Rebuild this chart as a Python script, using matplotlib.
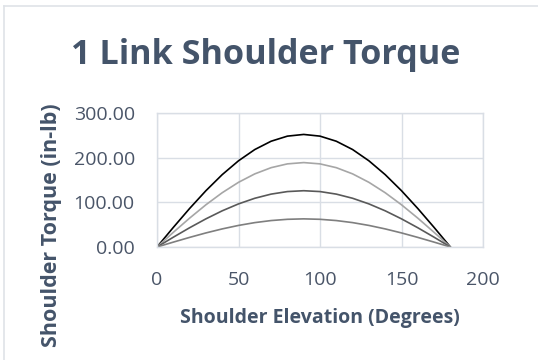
import matplotlib
matplotlib.use("Agg")
import matplotlib.pyplot as plt
from matplotlib.lines import Line2D

angles = [0, 10, 20, 30, 40, 50, 60, 70, 80, 90, 100, 110, 120, 130, 140, 150, 160, 170, 180]
torque_a = [0, 43.8, 86.2, 126.0, 162.0, 193.0, 218.2, 236.8, 248.2, 252.0, 248.2, 236.8, 218.2, 193.0, 162.0, 126.0, 86.2, 43.8, 0]
torque_b = [0, 32.8, 64.6, 94.5, 121.5, 144.8, 163.7, 177.6, 186.1, 189.0, 186.1, 177.6, 163.7, 144.8, 121.5, 94.5, 64.6, 32.8, 0]
torque_c = [0, 21.9, 43.1, 63.0, 81.0, 96.5, 109.1, 118.4, 124.1, 126.0, 124.1, 118.4, 109.1, 96.5, 81.0, 63.0, 43.1, 21.9, 0]
torque_d = [0, 10.9, 21.5, 31.5, 40.5, 48.3, 54.6, 59.2, 62.0, 63.0, 62.0, 59.2, 54.6, 48.3, 40.5, 31.5, 21.5, 10.9, 0]
series = [torque_a, torque_b, torque_c, torque_d]
colors = ["#000000", "#a6a6a6", "#595959", "#7f7f7f"]

x_ticks = [0, 50, 100, 150, 200]
y_ticks = [0, 100, 200, 300]
title = "1 Link Shoulder Torque"
xlabel = "Shoulder Elevation (Degrees)"
ylabel = "Shoulder Torque (in-lb)"

W, H = 538, 360
fig = plt.figure(figsize=(W / 100, H / 100), dpi=100)
plt.rcParams['font.family'] = ['Open Sans', 'DejaVu Sans']

# chart border (top and left edges visible)
border = "#dfe3e8"
fig.lines.append(Line2D([3.5 / W, 3.5 / W], [0, 1 - 5.5 / H], transform=fig.transFigure,
                        color=border, linewidth=1.2))
fig.lines.append(Line2D([3.5 / W, 1], [1 - 5.5 / H, 1 - 5.5 / H], transform=fig.transFigure,
                        color=border, linewidth=1.2))

left, right, top, bottom = 157, 483, 113, 247
ax = fig.add_axes([left / W, 1 - bottom / H, (right - left) / W, (bottom - top) / H])

for vals, c in zip(series, colors):
    ax.plot(angles, vals, color=c, linewidth=1.2, solid_capstyle='round')

ax.set_xlim(0, 200)
ax.set_ylim(0, 300)
ax.set_xticks(x_ticks)
ax.set_yticks(y_ticks)
ax.set_xticklabels([str(v) for v in x_ticks])
ax.set_yticklabels([f"{v:.2f}" for v in y_ticks])
tick_color = "#4a5568"
ax.tick_params(length=0, labelsize=14, colors=tick_color, pad=16)
ax.tick_params(axis='x', pad=17)
ax.grid(True, color="#d9dee5", linewidth=1)
ax.set_axisbelow(True)
for s in ax.spines.values():
    s.set_color("#d9dee5")
    s.set_linewidth(1)

txt_color = "#44546a"
fig.text(266 / W, 1 - 55 / H, title, ha='center', va='center', fontsize=24.6,
         fontweight='bold', color=txt_color)
fig.text(320 / W, 1 - 318 / H, xlabel, ha='center', va='center', fontsize=14,
         fontweight='bold', color=txt_color)
fig.text(52 / W, 1 - 225 / H, ylabel, ha='center', va='center', fontsize=15.5,
         fontweight='bold', color=txt_color, rotation=90)

fig.savefig("out.png", dpi=100)
